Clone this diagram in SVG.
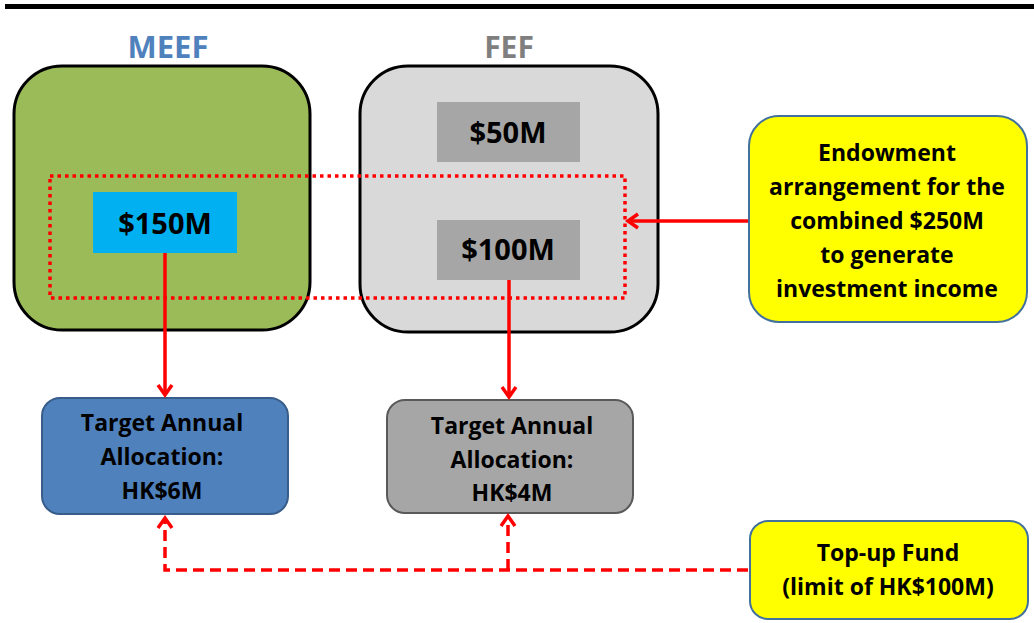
<svg xmlns="http://www.w3.org/2000/svg" width="1034" height="623" viewBox="0 0 1034 623">
<style>
text{font-family:"Open Sans","Liberation Sans",sans-serif;font-weight:bold;text-anchor:middle;fill:#000}
.lbl{font-size:23px}
.amt{font-size:29px}
.big{stroke:#000;stroke-width:3}
.red{stroke:#ff0000;stroke-width:3.5;fill:none}
.dash{stroke:#ff0000;stroke-width:3.5;fill:none;stroke-dasharray:11 6}
</style>
<defs>
<marker id="ah" markerWidth="16" markerHeight="18" refX="12" refY="9" orient="auto" markerUnits="userSpaceOnUse">
<path d="M2,2 L12,9 L2,16" fill="none" stroke="#ff0000" stroke-width="3.5"/>
</marker>
</defs>
<rect x="5" y="4" width="1029" height="5" fill="#000"/>
<g id="meef">
<text x="168" y="58" style="font-size:31px;fill:#4f81bd">MEEF</text>
<rect class="big" x="14" y="66" width="296" height="264" rx="48" fill="#9bbb59"/>
</g>
<g id="fef">
<text x="509" y="58" style="font-size:30px;fill:#7f7f7f">FEF</text>
<rect class="big" x="360" y="66" width="298" height="266" rx="48" fill="#d9d9d9"/>
</g>
<g id="f50">
<rect x="437" y="102" width="143" height="60" fill="#a6a6a6"/>
<text class="amt" x="508" y="143">$50M</text>
</g>
<g id="f100">
<rect x="437" y="220" width="143" height="60" fill="#a6a6a6"/>
<text class="amt" x="508" y="260">$100M</text>
</g>
<g id="m150">
<rect x="93" y="192" width="144" height="61" fill="#00b0f0"/>
<text class="amt" x="165" y="234">$150M</text>
</g>
<g id="combined">
<rect x="50" y="176" width="575" height="122" fill="none" stroke="#ff0000" stroke-width="3.5" stroke-dasharray="3.5 4"/>
</g>
<g id="endow">
<rect x="749" y="116" width="278" height="206" rx="30" fill="#ffff00" stroke="#41719c" stroke-width="2"/>
<text class="lbl" x="887" y="161">Endowment</text>
<text class="lbl" x="887" y="195">arrangement for the</text>
<text class="lbl" x="887" y="229">combined $250M</text>
<text class="lbl" x="887" y="263">to generate</text>
<text class="lbl" x="887" y="297">investment  income</text>
</g>
<g id="meef-target">
<rect x="42" y="398" width="246" height="116" rx="18" fill="#4f81bd" stroke="#385d8a" stroke-width="2"/>
<text class="lbl" x="162" y="431">Target Annual</text>
<text class="lbl" x="162" y="465">Allocation:</text>
<text class="lbl" x="162" y="499">HK$6M</text>
</g>
<g id="fef-target">
<rect x="387" y="400" width="246" height="113" rx="18" fill="#a6a6a6" stroke="#595959" stroke-width="2"/>
<text class="lbl" x="512" y="434">Target Annual</text>
<text class="lbl" x="512" y="468">Allocation:</text>
<text class="lbl" x="512" y="501">HK$4M</text>
</g>
<g id="topup">
<rect x="750" y="521" width="278" height="98" rx="18" fill="#ffff00" stroke="#41719c" stroke-width="2"/>
<text class="lbl" x="888" y="561">Top-up Fund</text>
<text class="lbl" x="888" y="595">(limit of HK$100M)</text>
</g>
<g id="connectors">
<line class="red" x1="748" y1="221" x2="628" y2="221" marker-end="url(#ah)"/>
<line class="red" x1="165" y1="253" x2="165" y2="395" marker-end="url(#ah)"/>
<line class="red" x1="509" y1="280" x2="509" y2="397" marker-end="url(#ah)"/>
<path class="dash" d="M748,570 H165 V518" marker-end="url(#ah)"/>
<path class="dash" d="M508,570 V516" marker-end="url(#ah)"/>
</g>
</svg>
